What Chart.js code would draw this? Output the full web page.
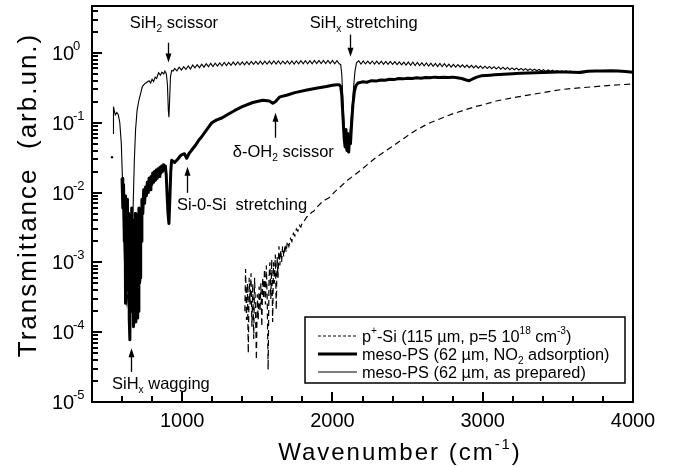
<!DOCTYPE html>
<html>
<head>
<meta charset="utf-8">
<script src="https://cdn.jsdelivr.net/npm/chart.js@4.4.1/dist/chart.umd.min.js"></script>
<style>
  html, body { margin: 0; padding: 0; background: #fff; }
  #wrap { width: 674px; height: 466px; }
</style>
</head>
<body>
<div id="wrap"><canvas id="irChart" width="674" height="466"></canvas></div>
<script>
// IR transmittance spectra of porous silicon vs. bulk p+ silicon

// meso-PS, as prepared (thin line)
const wnPrepared = [
  540, 543, 548, 555, 565, 575, 585, 595, 603, 610,
  618, 625, 632, 640, 650, 660, 668, 675, 682, 690,
  700, 712, 725, 735, 750, 765, 780, 790, 800, 810,
  820, 830, 843, 855, 865, 877, 885, 895, 902, 908,
  912, 916, 922, 930, 940, 950, 965, 980, 995, 1010,
  1025, 1040, 1055, 1070, 1085, 1100, 1115, 1130, 1145, 1160,
  1175, 1190, 1205, 1220, 1235, 1250, 1265, 1280, 1295, 1310,
  1325, 1340, 1355, 1370, 1385, 1400, 1415, 1430, 1445, 1460,
  1475, 1490, 1505, 1520, 1535, 1550, 1565, 1580, 1595, 1610,
  1625, 1640, 1655, 1670, 1685, 1700, 1715, 1730, 1745, 1760,
  1775, 1790, 1805, 1820, 1835, 1850, 1865, 1880, 1895, 1910,
  1925, 1940, 1955, 1970, 1985, 2000, 2015, 2030, 2045, 2055,
  2062, 2070, 2078, 2086, 2094, 2102, 2110, 2118, 2126, 2134,
  2142, 2150, 2160, 2175, 2190, 2205, 2220, 2235, 2250, 2265,
  2280, 2295, 2310, 2325, 2340, 2355, 2370, 2385, 2400, 2415,
  2430, 2445, 2460, 2475, 2490, 2505, 2520, 2535, 2550, 2565,
  2580, 2595, 2610, 2625, 2640, 2655, 2670, 2685, 2700, 2715,
  2730, 2745, 2760, 2775, 2790, 2805, 2820, 2835, 2850, 2865,
  2880, 2895, 2910, 2925, 2940, 2955, 2970, 2985, 3000, 3015,
  3030, 3045, 3060, 3075, 3090, 3105, 3120, 3135, 3150, 3165,
  3180, 3195, 3210, 3225, 3240, 3255, 3270, 3285, 3300, 3315,
  3330, 3345, 3360, 3375, 3390, 3405, 3420, 3435, 3450, 3465,
  3480, 3495, 3510, 3525, 3540, 3555, 3570, 3585, 3600, 3650,
  3700, 3750, 3800, 3850, 3900, 3950, 4000
];
const tPrepared = [
  0.07, 0.17, 0.15, 0.13, 0.14, 0.13, 0.10, 0.05, 0.015, 0.003,
  0.0008, 0.0003, 0.00025, 0.0004, 0.0002, 0.0005, 0.002, 0.008, 0.03, 0.08,
  0.15, 0.21, 0.27, 0.33, 0.36, 0.38, 0.40, 0.37, 0.42, 0.39,
  0.45, 0.43, 0.52, 0.48, 0.53, 0.50, 0.55, 0.50, 0.35, 0.15,
  0.12, 0.20, 0.45, 0.56, 0.55, 0.60, 0.555, 0.625, 0.57, 0.635,
  0.58, 0.65, 0.59, 0.67, 0.61, 0.68, 0.615, 0.69, 0.625, 0.70,
  0.635, 0.71, 0.64, 0.715, 0.65, 0.72, 0.655, 0.73, 0.66, 0.73,
  0.665, 0.74, 0.67, 0.745, 0.675, 0.745, 0.675, 0.75, 0.68, 0.755,
  0.685, 0.755, 0.685, 0.76, 0.685, 0.76, 0.69, 0.76, 0.69, 0.765,
  0.69, 0.765, 0.69, 0.765, 0.695, 0.77, 0.695, 0.77, 0.695, 0.77,
  0.70, 0.775, 0.70, 0.775, 0.70, 0.775, 0.70, 0.78, 0.705, 0.78,
  0.705, 0.78, 0.705, 0.78, 0.705, 0.78, 0.70, 0.775, 0.70, 0.68,
  0.50, 0.20, 0.09, 0.05, 0.04, 0.04, 0.05, 0.08, 0.13, 0.20,
  0.35, 0.55, 0.72, 0.77, 0.695, 0.77, 0.695, 0.765, 0.695, 0.765,
  0.69, 0.76, 0.69, 0.76, 0.685, 0.755, 0.685, 0.755, 0.685, 0.75,
  0.68, 0.745, 0.675, 0.74, 0.67, 0.74, 0.665, 0.735, 0.66, 0.73,
  0.66, 0.725, 0.655, 0.72, 0.65, 0.715, 0.645, 0.71, 0.64, 0.705,
  0.635, 0.70, 0.63, 0.69, 0.625, 0.685, 0.625, 0.68, 0.625, 0.675,
  0.62, 0.67, 0.615, 0.665, 0.61, 0.66, 0.605, 0.65, 0.60, 0.645,
  0.60, 0.64, 0.595, 0.635, 0.59, 0.63, 0.585, 0.625, 0.58, 0.62,
  0.575, 0.61, 0.575, 0.605, 0.57, 0.60, 0.565, 0.595, 0.56, 0.59,
  0.56, 0.585, 0.555, 0.58, 0.55, 0.575, 0.545, 0.57, 0.545, 0.565,
  0.54, 0.56, 0.535, 0.555, 0.535, 0.555, 0.535, 0.55, 0.53, 0.545,
  0.55, 0.555, 0.55, 0.56, 0.55, 0.545, 0.53
];

// meso-PS after NO2 adsorption (thick line)
const wnNO2 = [
  600, 605, 610, 615, 620, 623, 627, 632, 636, 640,
  644, 648, 652, 656, 660, 664, 668, 672, 676, 680,
  684, 688, 692, 696, 700, 704, 708, 712, 716, 720,
  724, 728, 732, 738, 744, 750, 756, 762, 768, 774,
  780, 786, 792, 798, 804, 810, 816, 822, 828, 834,
  840, 846, 852, 858, 864, 870, 876, 882, 888, 894,
  900, 906, 912, 918, 924, 930, 950, 970, 990, 1000,
  1015, 1030, 1045, 1065, 1090, 1110, 1130, 1160, 1197, 1230,
  1264, 1300, 1350, 1400, 1470, 1536, 1580, 1603, 1620, 1650,
  1700, 1750, 1830, 1900, 1960, 2000, 2030, 2045, 2055, 2062,
  2070, 2078, 2084, 2090, 2096, 2102, 2108, 2114, 2120, 2128,
  2136, 2146, 2156, 2170, 2200, 2230, 2260, 2290, 2320, 2350,
  2380, 2410, 2440, 2470, 2500, 2530, 2560, 2590, 2620, 2650,
  2680, 2710, 2740, 2770, 2800, 2830, 2860, 2890, 2910, 2930,
  2960, 2990, 3020, 3050, 3080, 3110, 3140, 3170, 3200, 3250,
  3300, 3350, 3400, 3450, 3500, 3550, 3600, 3650, 3700, 3750,
  3800, 3850, 3900, 3950, 4000
];
const tNO2 = [
  0.016, 0.006, 0.013, 0.002, 0.009, 0.00026, 0.006, 0.0016, 0.008, 0.0004,
  0.005, 0.00015, 0.000078, 0.003, 0.0002, 0.006, 0.0003, 0.004, 0.00012, 0.002,
  0.0002, 0.005, 0.00014, 0.003, 0.00016, 0.004, 0.0002, 0.006, 0.0005, 0.0006,
  0.004, 0.002, 0.008, 0.005, 0.011, 0.007, 0.012, 0.009, 0.014, 0.010,
  0.016, 0.011, 0.017, 0.013, 0.019, 0.014, 0.020, 0.015, 0.021, 0.016,
  0.022, 0.017, 0.023, 0.019, 0.024, 0.020, 0.025, 0.022, 0.024, 0.018,
  0.009, 0.005, 0.0036, 0.008, 0.020, 0.029, 0.027, 0.030, 0.034, 0.035,
  0.036, 0.031, 0.036, 0.041, 0.048, 0.056, 0.063, 0.078, 0.100, 0.110,
  0.117, 0.130, 0.150, 0.170, 0.195, 0.210, 0.205, 0.190, 0.200, 0.235,
  0.250, 0.270, 0.295, 0.315, 0.330, 0.345, 0.350, 0.350, 0.330, 0.250,
  0.12, 0.06, 0.045, 0.08, 0.04, 0.07, 0.038, 0.06, 0.05, 0.10,
  0.18, 0.28, 0.34, 0.37, 0.385, 0.38, 0.40, 0.395, 0.41, 0.405,
  0.42, 0.415, 0.43, 0.425, 0.435, 0.43, 0.44, 0.435, 0.445, 0.44,
  0.45, 0.445, 0.45, 0.445, 0.45, 0.44, 0.43, 0.41, 0.40, 0.42,
  0.45, 0.47, 0.475, 0.48, 0.485, 0.49, 0.495, 0.50, 0.505, 0.51,
  0.515, 0.52, 0.525, 0.53, 0.535, 0.535, 0.53, 0.525, 0.545, 0.55,
  0.55, 0.555, 0.55, 0.54, 0.53
];

// p+-Si substrate (dashed line)
const wnSi = [
  1417, 1422, 1428, 1434, 1440, 1446, 1452, 1458, 1464, 1470,
  1476, 1482, 1488, 1494, 1500, 1506, 1512, 1518, 1524, 1530,
  1536, 1542, 1548, 1554, 1560, 1566, 1572, 1578, 1584, 1590,
  1596, 1602, 1608, 1614, 1620, 1626, 1632, 1638, 1644, 1650,
  1656, 1662, 1668, 1676, 1684, 1692, 1700, 1710, 1720, 1730,
  1740, 1750, 1760, 1770, 1780, 1790, 1800, 1815, 1830, 1845,
  1860, 1875, 1890, 1910, 1930, 1950, 1980, 2020, 2060, 2100,
  2150, 2200, 2250, 2300, 2350, 2400, 2450, 2500, 2550, 2600,
  2650, 2700, 2750, 2800, 2870, 2950, 3000, 3090, 3200, 3310,
  3420, 3530, 3640, 3750, 3870, 4000
];
const tSi = [
  0.0002, 0.0008, 0.00015, 0.0005, 0.00005, 0.0006, 0.00025, 0.0007, 0.00012, 0.0005,
  0.00008, 0.0006, 0.0002, 0.00004, 0.00035, 0.00015, 0.00045, 0.0002, 0.0005, 0.00012,
  0.0006, 0.0003, 0.0008, 0.00025, 0.0009, 0.0003, 0.000029, 0.0006, 0.001, 0.0003,
  0.0011, 0.00014, 0.001, 0.0005, 0.0013, 0.00021, 0.0012, 0.0006, 0.0017, 0.0009,
  0.0015, 0.001, 0.0017, 0.0012, 0.0018, 0.0014, 0.002, 0.0017, 0.0022, 0.002,
  0.0026, 0.0024, 0.003, 0.0028, 0.0034, 0.0032, 0.0038, 0.004, 0.0045, 0.0046,
  0.0052, 0.0054, 0.006, 0.0066, 0.0073, 0.0078, 0.0085, 0.0105, 0.0125, 0.015,
  0.018, 0.022, 0.027, 0.033, 0.039, 0.046, 0.055, 0.065, 0.077, 0.088,
  0.10, 0.11, 0.122, 0.134, 0.15, 0.17, 0.18, 0.205, 0.228, 0.25,
  0.275, 0.30, 0.315, 0.33, 0.345, 0.36
];

// isolated reading left of the thin curve
const wnStray = [533];
const tStray = [0.032];

const X_MIN = 400, X_MAX = 4000;
const Y_MIN = 1e-5, Y_MAX = 4.7;
const xTickLabels = ['1000', '2000', '3000', '4000'];
const xTickValues = [600, 800, 1000, 1200, 1400, 1600, 1800, 2000, 2200, 2400,
  2600, 2800, 3000, 3200, 3400, 3600, 3800];
const yDecades = [-5, -4, -3, -2, -1, 0];
const yMinorSteps = [2, 3, 4, 5, 6, 7, 8, 9];

const legendLabels = [
  'p^{+}-Si (115 µm, p=5 10^{18} cm^{-3})',
  'meso-PS (62 µm, NO_{2} adsorption)',
  'meso-PS (62 µm, as prepared)'
];

// band labels and arrows, anchored in data units (wavenumber, transmittance)
const bandNotes = [
  { text: 'SiH_{2} scissor', wn: 652, t: 2.3 },
  { text: 'SiH_{x} stretching', wn: 1849, t: 2.3 },
  { text: 'δ-OH_{2} scissor', wn: 1337, t: 0.0325 },
  { text: 'Si-0-Si  stretching', wn: 965, t: 0.00565 },
  { text: 'SiH_{x} wagging', wn: 533, t: 1.53e-5 }
];
const bandArrows = [
  { wn: 908, from: 1.4, to: 0.73 },
  { wn: 2114, from: 1.83, to: 0.885 },
  { wn: 1616, from: 0.061, to: 0.139 },
  { wn: 1031, from: 0.0099, to: 0.0234 },
  { wn: 659, from: 2.7e-5, to: 5.9e-5 }
];

const FONT = '"Liberation Sans", Arial, Helvetica, sans-serif';

const toPoints = (xs, ys) => xs.map((x, i) => ({ x: x, y: ys[i] }));

// text with _{sub} and ^{sup} runs; returns the drawn width
function richText(ctx, x, y, spec, size, draw = true) {
  const re = /([_^])\{([^}]*)\}|([^_^]+)/g;
  let m, cx = x;
  while ((m = re.exec(spec))) {
    const kind = m[3] ? '' : m[1];
    const str = m[3] || m[2];
    const s = kind ? size * 0.62 : size;
    ctx.font = s + 'px ' + FONT;
    const dy = kind === '_' ? size * 0.25 : kind === '^' ? -size * 0.45 : 0;
    if (draw) ctx.fillText(str, cx, y + dy);
    cx += ctx.measureText(str).width;
  }
  return cx - x;
}

function arrow(ctx, x, y0, y1) {
  const dir = y1 > y0 ? 1 : -1;
  ctx.beginPath();
  ctx.moveTo(x, y0);
  ctx.lineTo(x, y1 - dir * 6);
  ctx.lineWidth = 1.3;
  ctx.stroke();
  ctx.beginPath();
  ctx.moveTo(x, y1);
  ctx.lineTo(x - 3, y1 - dir * 9);
  ctx.lineTo(x + 3, y1 - dir * 9);
  ctx.closePath();
  ctx.fill();
}

const decorations = {
  id: 'decorations',
  afterDraw(chart) {
    const ctx = chart.ctx;
    const a = chart.chartArea;
    const xs = chart.scales.x, ys = chart.scales.y;
    const left = a.left, right = a.right, top = a.top, bottom = a.bottom;
    ctx.save();
    ctx.setLineDash([]);
    ctx.fillStyle = '#000';
    ctx.strokeStyle = '#000';

    // frame
    ctx.lineWidth = 2;
    ctx.strokeRect(left, top, right - left, bottom - top);

    // inward ticks on the bottom and left axes
    xTickValues.forEach(v => {
      const px = Math.round(xs.getPixelForValue(v));
      const len = v % 1000 === 0 ? 10 : 6;
      ctx.fillRect(px - 1, bottom - len, 2, len);
    });
    yDecades.forEach(d => {
      const base = Math.pow(10, d);
      if (d > -5) {
        const py = Math.round(ys.getPixelForValue(base));
        ctx.fillRect(left, py - 1, 10, 2);
      }
      yMinorSteps.forEach(k => {
        if (k * base >= Y_MAX) return;
        const py = Math.round(ys.getPixelForValue(k * base));
        ctx.fillRect(left, py - 1, 6, 2);
      });
    });

    // x tick labels
    ctx.textAlign = 'center';
    ctx.textBaseline = 'alphabetic';
    ctx.font = '20px ' + FONT;
    xTickLabels.forEach(lbl => {
      ctx.fillText(lbl, xs.getPixelForValue(Number(lbl)), bottom + 25);
    });

    // y tick labels 10^n
    ctx.textAlign = 'left';
    yDecades.forEach(d => {
      const py = ys.getPixelForValue(Math.pow(10, d));
      richText(ctx, 52, py + 7, '10', 20);
      ctx.font = '13px ' + FONT;
      ctx.fillText(String(d), 73, py - 3);
    });

    // axis titles
    if ('letterSpacing' in ctx) ctx.letterSpacing = '2px';
    const xw = richText(ctx, 0, 0, 'Wavenumber (cm^{-1})', 24, false);
    richText(ctx, 400 - xw / 2, 460, 'Wavenumber (cm^{-1})', 24);
    ctx.save();
    ctx.translate(36, 195);
    ctx.rotate(-Math.PI / 2);
    const yw = richText(ctx, 0, 0, 'Transmittance  (arb.un.)', 26, false);
    richText(ctx, -yw / 2, 0, 'Transmittance  (arb.un.)', 26);
    ctx.restore();
    if ('letterSpacing' in ctx) ctx.letterSpacing = '0px';

    // band assignments
    bandNotes.forEach(n => {
      richText(ctx, xs.getPixelForValue(n.wn), ys.getPixelForValue(n.t), n.text, 16.5);
    });
    bandArrows.forEach(ar => {
      arrow(ctx, Math.round(xs.getPixelForValue(ar.wn)) + 0.5,
        ys.getPixelForValue(ar.from), ys.getPixelForValue(ar.to));
    });

    // legend box
    const bx = 305, by = 317, bw = 320, bh = 66;
    ctx.fillStyle = '#fff';
    ctx.fillRect(bx, by, bw, bh);
    ctx.lineWidth = 1.5;
    ctx.strokeRect(bx, by, bw, bh);
    ctx.fillStyle = '#000';
    const styles = [
      { w: 1, dash: [3, 2] },
      { w: 3, dash: [] },
      { w: 1, dash: [] }
    ];
    legendLabels.forEach((lbl, i) => {
      const ly = by + 19 + i * 18;
      ctx.lineWidth = styles[i].w;
      ctx.setLineDash(styles[i].dash);
      ctx.beginPath();
      ctx.moveTo(bx + 13, ly);
      ctx.lineTo(bx + 52, ly);
      ctx.stroke();
      ctx.setLineDash([]);
      richText(ctx, bx + 57, ly + 5.5, lbl, 16.3);
    });

    ctx.restore();
  }
};

new Chart(document.getElementById('irChart'), {
  type: 'line',
  data: {
    datasets: [
      {
        label: 'p+-Si',
        data: toPoints(wnSi, tSi),
        borderColor: '#000',
        borderWidth: 1.2,
        borderDash: [6, 4],
        pointRadius: 0
      },
      {
        label: 'meso-PS NO2',
        data: toPoints(wnNO2, tNO2),
        borderColor: '#000',
        borderWidth: 3,
        borderJoinStyle: 'round',
        pointRadius: 0
      },
      {
        label: 'meso-PS as prepared',
        data: toPoints(wnPrepared, tPrepared),
        borderColor: '#000',
        borderWidth: 1.1,
        pointRadius: 0
      },
      {
        label: 'stray',
        data: toPoints(wnStray, tStray),
        showLine: false,
        pointRadius: 1.2,
        pointBackgroundColor: '#000',
        pointBorderWidth: 0
      }
    ]
  },
  options: {
    responsive: false,
    animation: false,
    layout: { padding: { left: 92, right: 41, top: 6, bottom: 64 } },
    plugins: {
      legend: { display: false },
      tooltip: { enabled: false }
    },
    scales: {
      x: { type: 'linear', min: X_MIN, max: X_MAX, display: false },
      y: { type: 'logarithmic', min: Y_MIN, max: Y_MAX, display: false }
    }
  },
  plugins: [decorations]
});
</script>
</body>
</html>
